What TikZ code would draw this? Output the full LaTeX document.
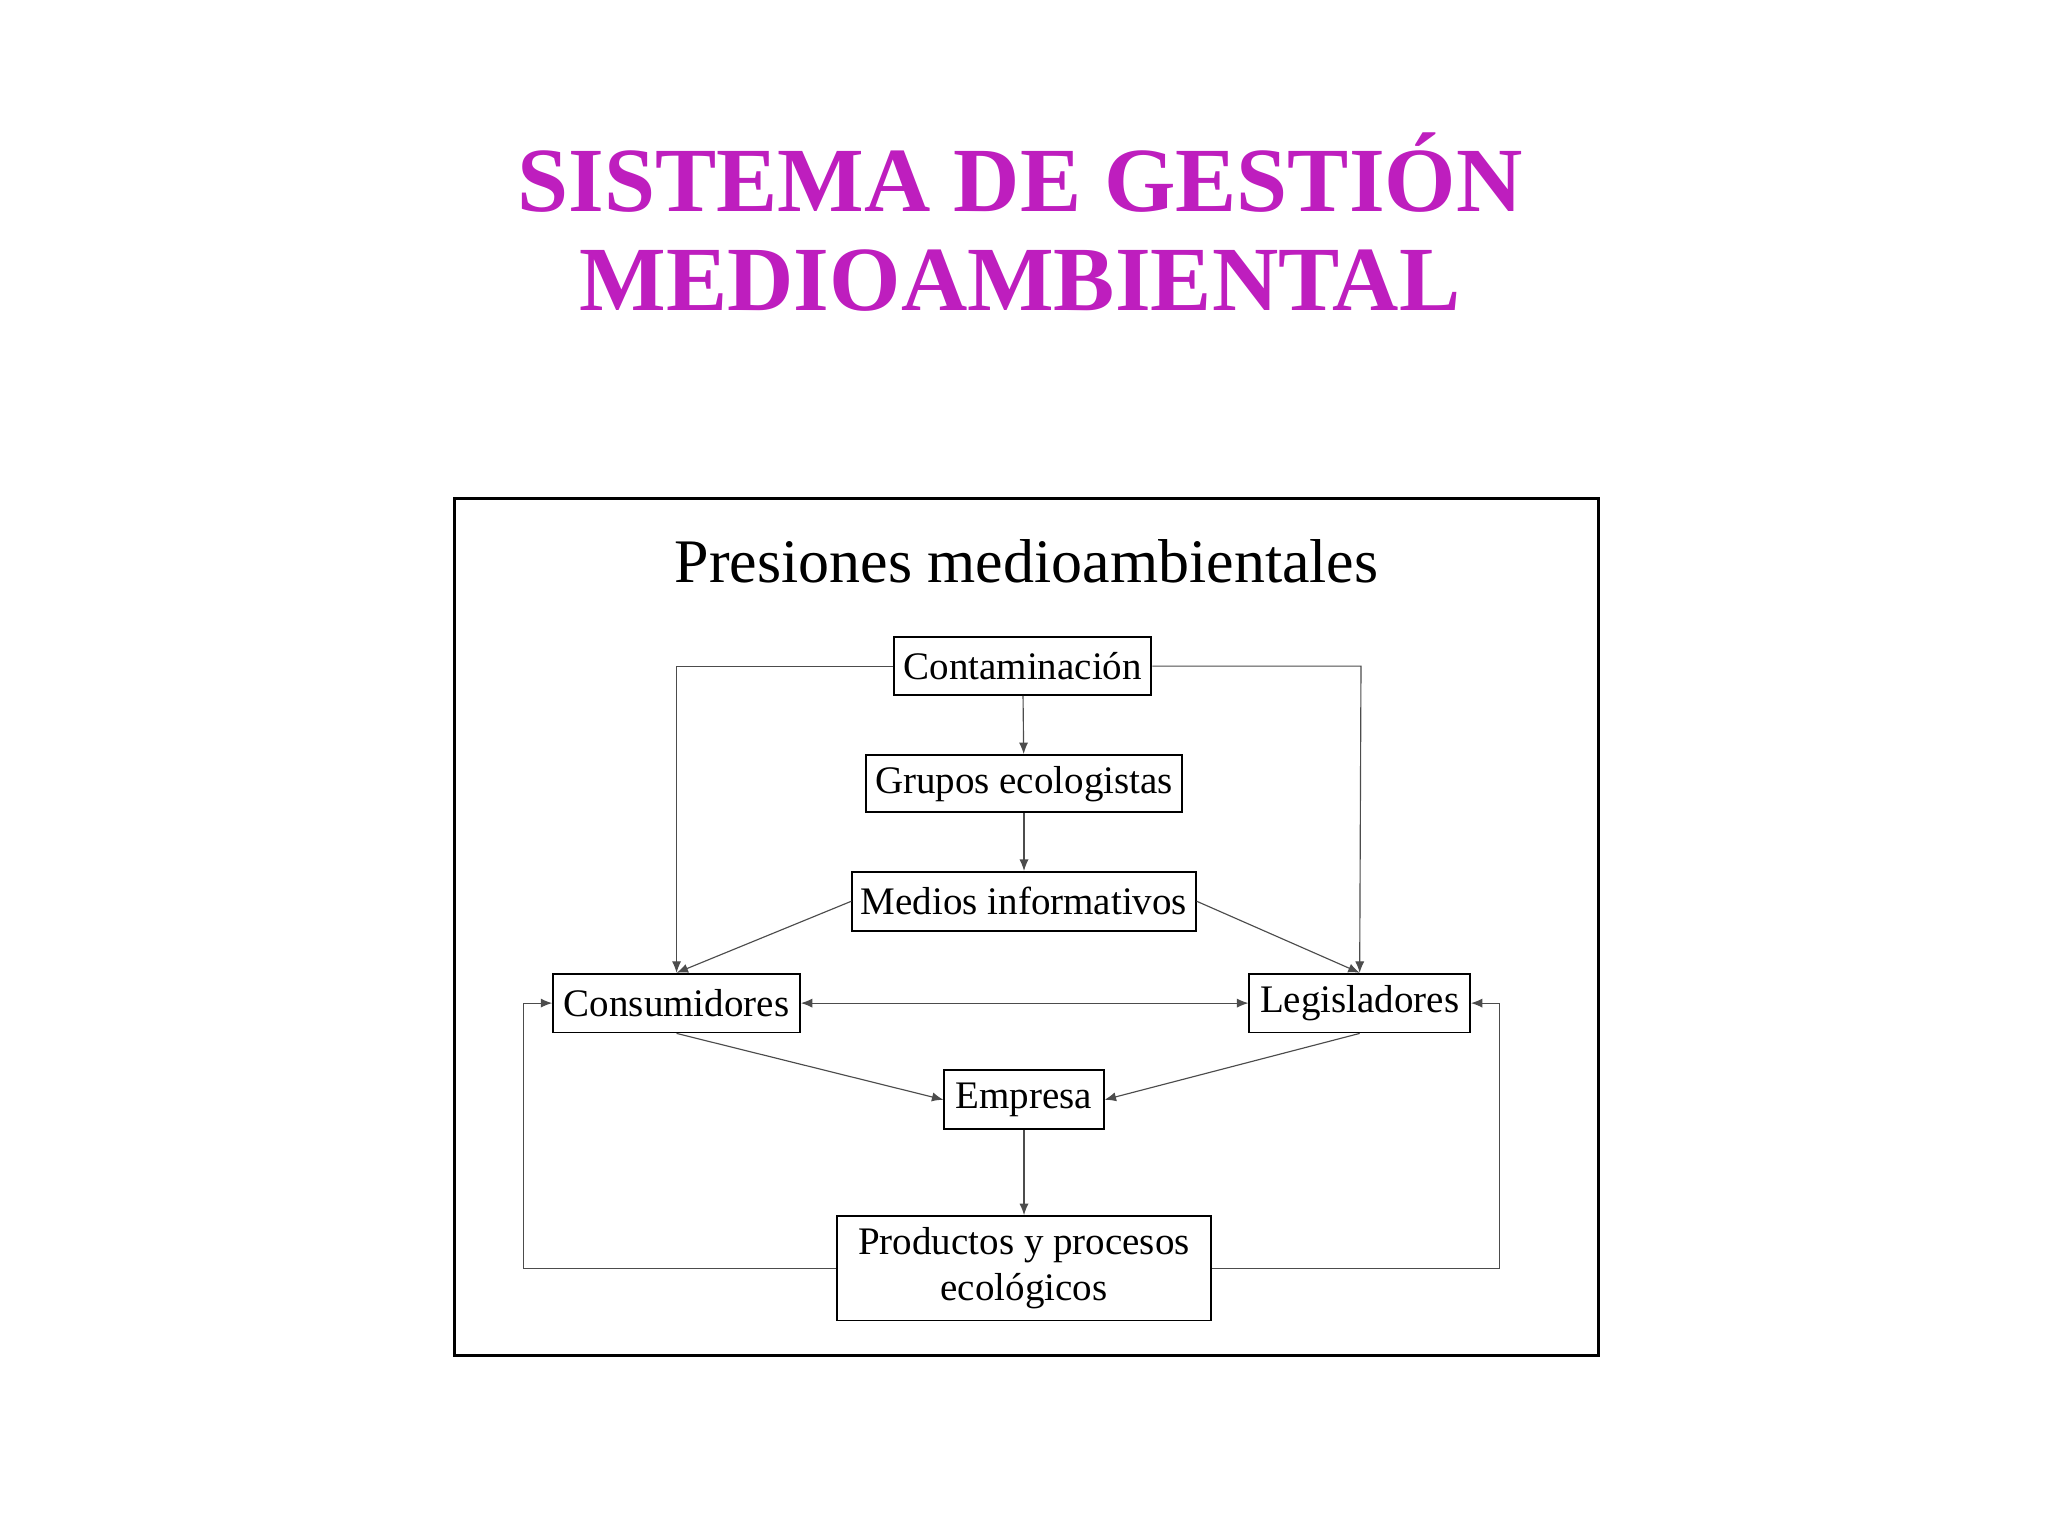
\documentclass[tikz,border=0pt]{standalone}
\usepackage{fontspec}
\setmainfont{Liberation Serif}
\usetikzlibrary{arrows.meta}
\definecolor{titlec}{RGB}{190,30,190}
\begin{document}
\begin{tikzpicture}[x=0.02cm,y=-0.02cm,
  box/.style={draw,line width=0.8pt,inner sep=0pt,font=\fontsize{17}{20}\selectfont,align=center},
  con/.style={draw=black!70,line width=0.5pt,-{Latex[length=5pt,width=4pt]}}]
\useasboundingbox (0,0) rectangle (1568,1176);
\node[titlec,font=\fontsize{40}{43}\selectfont\bfseries,align=center] (title) at (781,170) {SISTEMA DE GESTIÓN\\MEDIOAMBIENTAL};
\draw[line width=1.3pt] (348,382) rectangle (1224,1038);
\node[font=\fontsize{27}{32}\selectfont] (head) at (786,430) {Presiones medioambientales};
\node[box,minimum width=3.94cm,minimum height=0.88cm] (cont) at (783,510) {Contaminación};
\node[box,minimum width=4.84cm,minimum height=0.88cm] (grup) at (784,600) {Grupos ecologistas};
\node[box,minimum width=5.26cm,minimum height=0.9cm] (med) at (784,690) {Medios informativos};
\node[box,minimum width=3.78cm,minimum height=0.9cm] (cons) at (518,768) {Consumidores};
\node[box,minimum width=3.38cm,minimum height=0.9cm] (leg) at (1041,768) {Legisladores};
\node[box,minimum width=2.44cm,minimum height=0.9cm] (emp) at (784,842) {Empresa};
\node[box,minimum width=5.74cm,minimum height=1.6cm] (prod) at (784,971) {Productos y procesos\\ecológicos};
\coordinate (cl) at (518,510); \coordinate (cr) at (1042,510);
\coordinate (pl) at (401,971); \coordinate (pl2) at (401,768);
\coordinate (pr) at (1148,971); \coordinate (pr2) at (1148,768);
\draw[con] (cont) -- (grup);
\draw[con] (grup) -- (med);
\draw[con] (med.west) -- (cons.north);
\draw[con] (med.east) -- (leg.north);
\draw[con] (cont.west) -- (cl) -- (cons.north);
\draw[con] (cont.east) -- (cr) -- (leg.north);
\draw[con,{Latex[length=5pt,width=4pt]}-{Latex[length=5pt,width=4pt]}] (cons) -- (leg);
\draw[con] (cons.south) -- (emp.west);
\draw[con] (leg.south) -- (emp.east);
\draw[con] (emp) -- (prod);
\draw[con] (prod.west) -- (pl) -- (pl2) -- (cons.west);
\draw[con] (prod.east) -- (pr) -- (pr2) -- (leg.east);
\end{tikzpicture}
\end{document}
